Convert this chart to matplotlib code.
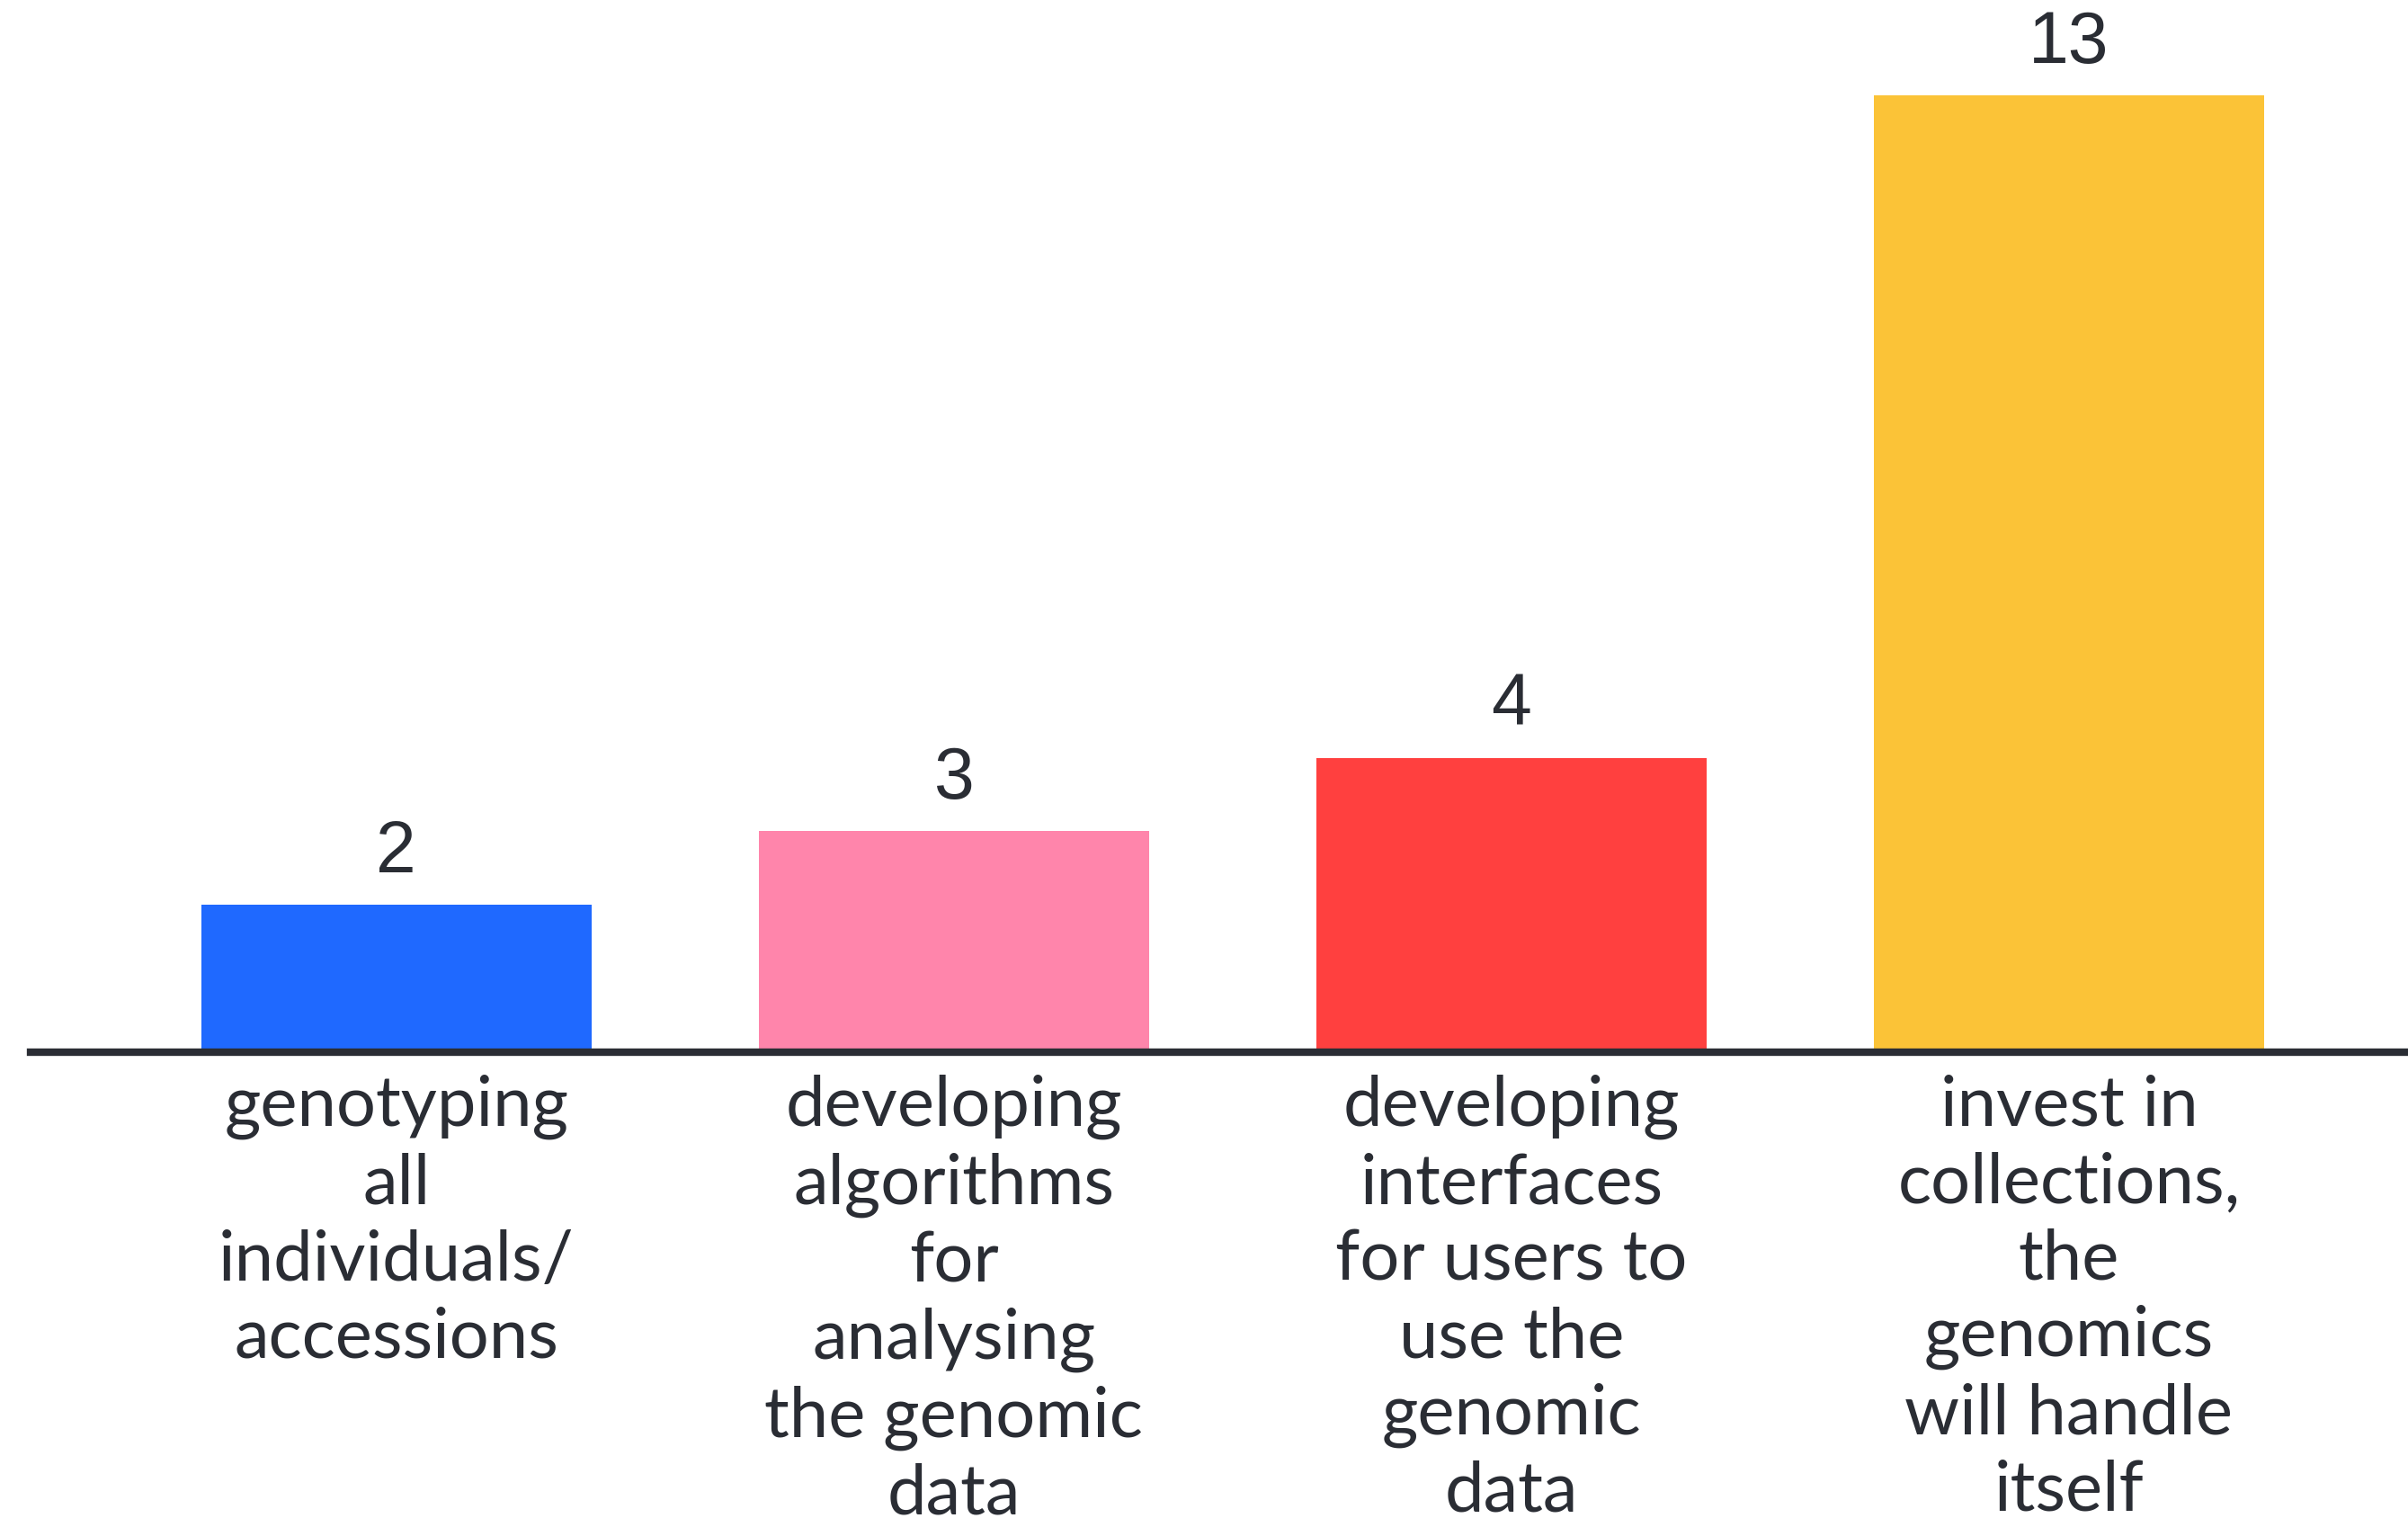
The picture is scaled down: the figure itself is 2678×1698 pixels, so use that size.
import matplotlib
matplotlib.use("Agg")
import matplotlib.pyplot as plt

categories = [
    "genotyping\nall\nindividuals/\naccessions",
    "developing\nalgorithms\nfor\nanalysing\nthe genomic\ndata",
    "developing\ninterfaces\nfor users to\nuse the\ngenomic\ndata",
    "invest in\ncollections,\nthe\ngenomics\nwill handle\nitself",
]
values = [2, 3, 4, 13]
colors = ["#1f69ff", "#ff85ab", "#ff403f", "#fbc337"]

text_color = "#2a2d34"

fig = plt.figure(figsize=(26.78, 16.98), dpi=100)
ax = fig.add_axes([0.0127, 0.311, 0.9873, 0.689])
x = list(range(len(values)))
bars = ax.bar(x, values, width=0.7, color=colors, zorder=2)
ax.set_xlim(-0.656, 3.608)
ax.set_ylim(0, 14.3)

for s in ["top", "right", "left"]:
    ax.spines[s].set_visible(False)
ax.spines["bottom"].set_color(text_color)
ax.spines["bottom"].set_linewidth(6)
ax.spines["bottom"].set_zorder(3)
ax.set_yticks([])
ax.set_xticks(x)
ax.set_xticklabels(categories, fontsize=56, color=text_color,
                   family=["Lato", "DejaVu Sans"], linespacing=1.25,
                   multialignment="center", va="top")
ax.tick_params(axis="x", length=0, pad=18)

ax.bar_label(bars, labels=[str(v) for v in values], padding=14,
             fontsize=58, color=text_color, family=["Liberation Sans", "DejaVu Sans"])

fig.savefig("out.png", dpi=100, facecolor="white")
